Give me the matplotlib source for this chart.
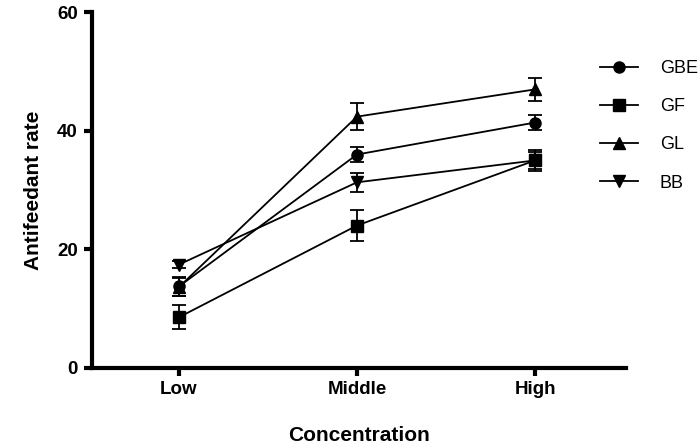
import numpy as np
import matplotlib.pyplot as plt
from matplotlib.lines import Line2D

plt.rcParams['font.family'] = ['Liberation Sans', 'DejaVu Sans']

levels = ["Low", "Middle", "High"]
series = ["GBE", "GF", "GL", "BB"]
markers = ["o", "s", "^", "v"]

gbe = [13.7, 36.0, 41.4]
gbe_err = [1.6, 1.3, 1.3]
gf = [8.5, 24.0, 35.0]
gf_err = [2.0, 2.6, 1.8]
gl = [13.6, 42.4, 47.0]
gl_err = [1.5, 2.3, 2.0]
bb = [17.4, 31.3, 35.0]
bb_err = [0.6, 1.6, 1.5]

means = [gbe, gf, gl, bb]
errs = [gbe_err, gf_err, gl_err, bb_err]

fig = plt.figure(figsize=(7, 4.45), dpi=100)
ax = fig.add_axes([0.131, 0.174, 0.763, 0.798])

x = np.arange(len(levels))
handles = []
for name, m, y, e in zip(series, markers, means, errs):
    ax.errorbar(x, y, yerr=e, color="black", marker=m, markersize=8, lw=1.3,
                elinewidth=1.3, capsize=5, capthick=1.3)
    handles.append(Line2D([], [], color="black", marker=m, markersize=8, lw=1.3, label=name))

ax.set_xlim(-0.49, 2.51)
ax.set_ylim(0, 60)
ax.set_yticks([0, 20, 40, 60])
ax.set_xticks(x)
ax.set_xticklabels(levels)
for lbl in ax.get_xticklabels() + ax.get_yticklabels():
    lbl.set_fontweight("bold")
    lbl.set_fontsize(13.5)

for s in ["top", "right"]:
    ax.spines[s].set_visible(False)
for s in ["left", "bottom"]:
    ax.spines[s].set_linewidth(3)
ax.tick_params(width=3, length=6, direction="out", pad=4)

ax.set_ylabel("Antifeedant rate", fontsize=15, fontweight="bold", labelpad=10)
ax.set_xlabel("Concentration", fontsize=15, fontweight="bold", labelpad=20)

fig.legend(handles=handles, loc="upper left", bbox_to_anchor=(0.834, 0.902), frameon=False,
           fontsize=13, handlelength=2.1, labelspacing=1.18, handletextpad=1.2)

fig.savefig("out.png", dpi=100)
